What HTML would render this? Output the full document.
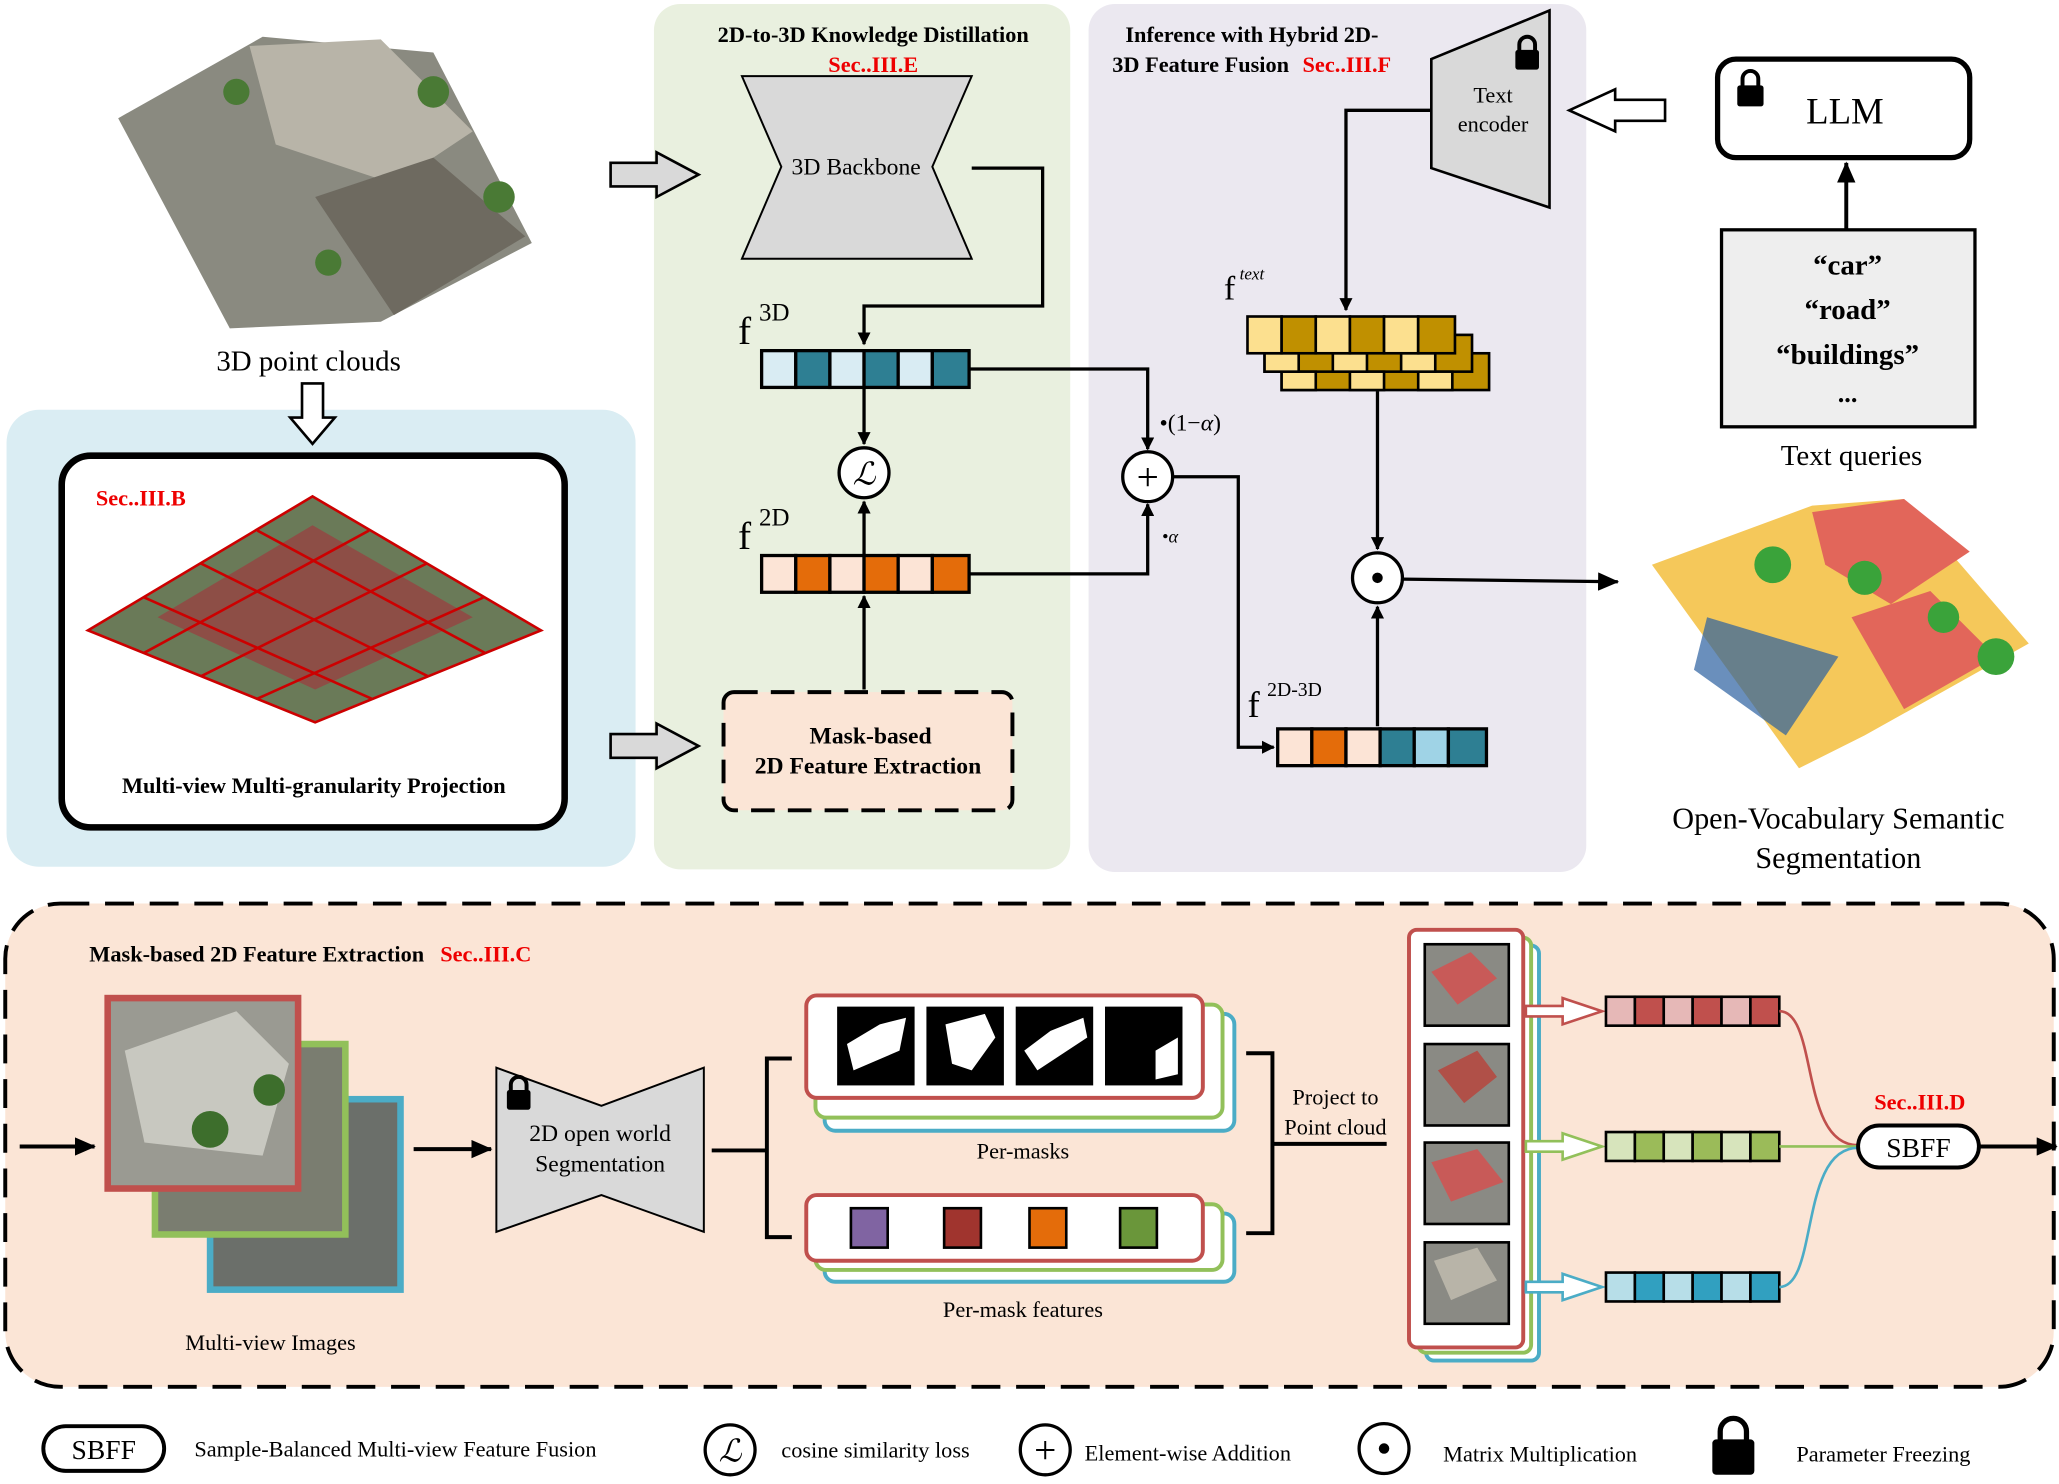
<!DOCTYPE html>
<html><head><meta charset="utf-8"><style>
html,body{margin:0;padding:0;background:#fff}
svg{display:block}
text{font-family:"Liberation Serif",serif}
</style></head><body>
<svg width="2059" height="1484" viewBox="0 0 1568 1130" preserveAspectRatio="none" xmlns="http://www.w3.org/2000/svg">
<defs>
<marker id="ah" markerWidth="10" markerHeight="10" refX="9" refY="5" orient="auto" markerUnits="userSpaceOnUse"><path d="M0,0 L10,5 L0,10 z" fill="#000"/></marker>
<marker id="ahb" markerWidth="16" markerHeight="14" refX="15" refY="7" orient="auto" markerUnits="userSpaceOnUse"><path d="M0,0 L16,7 L0,14 z" fill="#000"/></marker>
</defs>
<rect width="1568" height="1130" fill="#fff"/>
<rect x="5" y="312" width="479" height="348" rx="25" fill="#daedf3"/>
<rect x="498" y="3" width="317" height="659" rx="20" fill="#e9f0df"/>
<rect x="829" y="3" width="379" height="661" rx="20" fill="#ebe8f0"/>
<rect x="4" y="688" width="1560" height="368" rx="42" fill="#fbe5d6" stroke="#000" stroke-width="3" stroke-dasharray="22,12"/>

<polygon points="90,90 200,28 330,40 405,185 290,245 175,250" fill="#8a8a80"/>
<polygon points="190,35 290,30 360,100 300,140 210,110" fill="#b8b4a8"/>
<polygon points="240,150 330,120 400,180 300,240" fill="#6e6a60"/>
<circle cx="180" cy="70" r="10" fill="#4a7a35"/><circle cx="330" cy="70" r="12" fill="#4a7a35"/><circle cx="380" cy="150" r="12" fill="#4a7a35"/><circle cx="250" cy="200" r="10" fill="#4a7a35"/>
<text x="235" y="282" font-size="22" text-anchor="middle">3D point clouds</text>
<polygon points="230,292 246,292 246,318 255,318 238,338 221,318 230,318" fill="#fff" stroke="#000" stroke-width="2"/>

<rect x="47" y="347" width="383" height="283" rx="22" fill="#fff" stroke="#000" stroke-width="5"/>
<text x="73" y="385" font-size="17" font-weight="bold" fill="#e00">Sec..III.B</text>
<polygon points="67,480 238,378 412,480 240,550" fill="#6a7a58"/>
<polygon points="120,470 238,400 360,470 240,525" fill="#9a4040" opacity="0.75"/>
<g stroke="#c00" stroke-width="2" fill="none">
<polygon points="67,480 238,378 412,480 240,550"/>
<line x1="110" y1="455" x2="283" y2="532"/><line x1="153" y1="429" x2="326" y2="515"/><line x1="196" y1="404" x2="369" y2="497"/>
<line x1="110" y1="497" x2="281" y2="404"/><line x1="153" y1="515" x2="325" y2="429"/><line x1="196" y1="532" x2="368" y2="455"/>
</g>
<text x="239" y="604" font-size="17" font-weight="bold" text-anchor="middle">Multi-view Multi-granularity Projection</text>

<polygon points="465,124 500,124 500,116 532,133 500,150 500,142 465,142" fill="#d9d9d9" stroke="#000" stroke-width="2"/>
<polygon points="465,559 500,559 500,551 532,568 500,585 500,577 465,577" fill="#d9d9d9" stroke="#000" stroke-width="2"/>

<text x="665" y="32" font-size="17" font-weight="bold" text-anchor="middle">2D-to-3D Knowledge Distillation</text>
<text x="665" y="55" font-size="17" font-weight="bold" text-anchor="middle" fill="#e00">Sec..III.E</text>
<polygon points="565,58 740,58 710,127 740,197 565,197 595,127" fill="#d9d9d9" stroke="#000" stroke-width="1.5"/>
<text x="652" y="133" font-size="18" text-anchor="middle">3D Backbone</text>
<polyline points="740,128 794,128 794,233 658,233 658,262" fill="none" stroke="#000" stroke-width="2.5" marker-end="url(#ah)"/>
<text x="562" y="262" font-size="30">f</text><text x="578" y="244" font-size="19">3D</text>
<g stroke="#000" stroke-width="2.5">
<rect x="580" y="267" width="26" height="28" fill="#d9ecf3"/><rect x="606" y="267" width="26" height="28" fill="#2e7f93"/><rect x="632" y="267" width="26" height="28" fill="#d9ecf3"/><rect x="658" y="267" width="26" height="28" fill="#2e7f93"/><rect x="684" y="267" width="26" height="28" fill="#d9ecf3"/><rect x="710" y="267" width="28" height="28" fill="#2e7f93"/>
<rect x="580" y="423" width="26" height="28" fill="#fce4d6"/><rect x="606" y="423" width="26" height="28" fill="#e46c0a"/><rect x="632" y="423" width="26" height="28" fill="#fce4d6"/><rect x="658" y="423" width="26" height="28" fill="#e46c0a"/><rect x="684" y="423" width="26" height="28" fill="#fce4d6"/><rect x="710" y="423" width="28" height="28" fill="#e46c0a"/>
</g>
<text x="562" y="418" font-size="30">f</text><text x="578" y="400" font-size="19">2D</text>
<line x1="658" y1="295" x2="658" y2="338" stroke="#000" stroke-width="2.5" marker-end="url(#ah)"/>
<circle cx="658" cy="360" r="19" fill="#fff" stroke="#000" stroke-width="2.5"/>
<text x="658" y="369" font-size="24" font-style="italic" text-anchor="middle">ℒ</text>
<line x1="658" y1="423" x2="658" y2="382" stroke="#000" stroke-width="2.5" marker-end="url(#ah)"/>
<line x1="658" y1="525" x2="658" y2="454" stroke="#000" stroke-width="2.5" marker-end="url(#ah)"/>
<rect x="551" y="527" width="220" height="90" rx="8" fill="#fbe5d6" stroke="#000" stroke-width="3" stroke-dasharray="18,10"/>
<text x="663" y="566" font-size="18" font-weight="bold" text-anchor="middle">Mask-based</text>
<text x="661" y="589" font-size="18" font-weight="bold" text-anchor="middle">2D Feature Extraction</text>

<polyline points="738,281 874,281 874,342" fill="none" stroke="#000" stroke-width="2.5" marker-end="url(#ah)"/>
<polyline points="738,437 874,437 874,384" fill="none" stroke="#000" stroke-width="2.5" marker-end="url(#ah)"/>
<circle cx="874" cy="363" r="19" fill="#fff" stroke="#000" stroke-width="2.5"/>
<text x="874" y="373" font-size="30" text-anchor="middle">+</text>
<text x="883" y="328" font-size="18">•(1−<tspan font-style="italic">α</tspan>)</text>
<text x="885" y="413" font-size="14">•<tspan font-style="italic">α</tspan></text>
<polyline points="893,363 943,363 943,569 970,569" fill="none" stroke="#000" stroke-width="2.5" marker-end="url(#ah)"/>

<text x="857" y="32" font-size="17" font-weight="bold">Inference with Hybrid 2D-</text>
<text x="847" y="55" font-size="17" font-weight="bold">3D Feature Fusion <tspan fill="#e00" dx="6">Sec..III.F</tspan></text>
<polygon points="1090,45 1180,8 1180,158 1090,128" fill="#d9d9d9" stroke="#000" stroke-width="2"/>
<text x="1137" y="78" font-size="17" text-anchor="middle">Text</text>
<text x="1137" y="100" font-size="17" text-anchor="middle">encoder</text>
<g fill="#000"><rect x="1154" y="38" width="18" height="15" rx="2"/><path d="M1157,39 v-5 a6,6 0 0 1 12,0 v5" fill="none" stroke="#000" stroke-width="3"/></g>
<polygon points="1268,76 1230,76 1230,68 1195,84 1230,100 1230,92 1268,92" fill="#fff" stroke="#000" stroke-width="2"/>
<polyline points="1090,84 1025,84 1025,236" fill="none" stroke="#000" stroke-width="2.5" marker-end="url(#ah)"/>
<text x="932" y="228" font-size="26">f</text><text x="944" y="213" font-size="13" font-style="italic">text</text>
<g stroke="#000" stroke-width="2">
<g transform="translate(26,28)"><rect x="950" y="241" width="158" height="28" fill="#c09000"/></g>
<g transform="translate(13,14)"><rect x="950" y="241" width="158" height="28" fill="#c09000"/></g>
</g>
<g stroke="#000" stroke-width="2">
<rect x="976" y="283" width="26" height="14" fill="#fce08f"/><rect x="1028" y="283" width="26" height="14" fill="#fce08f"/><rect x="1080" y="283" width="26" height="14" fill="#fce08f"/>
<rect x="963" y="269" width="26" height="14" fill="#fce08f"/><rect x="1015" y="269" width="26" height="14" fill="#fce08f"/><rect x="1067" y="269" width="26" height="14" fill="#fce08f"/>
<rect x="950" y="241" width="26" height="28" fill="#fce08f"/><rect x="976" y="241" width="26" height="28" fill="#c09000"/><rect x="1002" y="241" width="26" height="28" fill="#fce08f"/><rect x="1028" y="241" width="26" height="28" fill="#c09000"/><rect x="1054" y="241" width="26" height="28" fill="#fce08f"/><rect x="1080" y="241" width="28" height="28" fill="#c09000"/>
</g>
<line x1="1049" y1="298" x2="1049" y2="418" stroke="#000" stroke-width="2.5" marker-end="url(#ah)"/>
<circle cx="1049" cy="440" r="19" fill="#fff" stroke="#000" stroke-width="2.5"/>
<circle cx="1049" cy="440" r="4" fill="#000"/>
<line x1="1049" y1="553" x2="1049" y2="462" stroke="#000" stroke-width="2.5" marker-end="url(#ah)"/>
<line x1="1068" y1="441" x2="1232" y2="443" stroke="#000" stroke-width="2.5" marker-end="url(#ahb)"/>
<text x="950" y="546" font-size="28">f</text><text x="965" y="530" font-size="15">2D-3D</text>
<g stroke="#000" stroke-width="2.5">
<rect x="973" y="555" width="26" height="28" fill="#fce4d6"/><rect x="999" y="555" width="26" height="28" fill="#e46c0a"/><rect x="1025" y="555" width="26" height="28" fill="#fce4d6"/><rect x="1051" y="555" width="26" height="28" fill="#2e7f93"/><rect x="1077" y="555" width="26" height="28" fill="#9fd3e6"/><rect x="1103" y="555" width="29" height="28" fill="#2e7f93"/>
</g>

<rect x="1308" y="45" width="192" height="75" rx="14" fill="#fff" stroke="#000" stroke-width="4"/>
<text x="1405" y="94" font-size="28" text-anchor="middle">LLM</text>
<g fill="#000"><rect x="1323" y="65" width="20" height="16" rx="2"/><path d="M1327,66 v-6 a6,6 0 0 1 12,0 v6" fill="none" stroke="#000" stroke-width="3"/></g>
<line x1="1406" y1="174" x2="1406" y2="124" stroke="#000" stroke-width="3" marker-end="url(#ahb)"/>
<rect x="1311" y="175" width="193" height="150" fill="#eee" stroke="#000" stroke-width="2.5"/>
<text x="1407" y="209" font-size="22" font-weight="bold" text-anchor="middle">“car”</text>
<text x="1407" y="243" font-size="22" font-weight="bold" text-anchor="middle">“road”</text>
<text x="1407" y="277" font-size="22" font-weight="bold" text-anchor="middle">“buildings”</text>
<text x="1407" y="306" font-size="20" font-weight="bold" text-anchor="middle">...</text>
<text x="1410" y="354" font-size="22" text-anchor="middle">Text queries</text>

<polygon points="1258,430 1380,385 1450,380 1545,490 1420,560 1370,585" fill="#f5c85a"/>
<polygon points="1380,390 1450,380 1500,420 1440,460 1390,430" fill="#e2665a"/>
<polygon points="1410,470 1470,450 1520,500 1450,540" fill="#e2665a"/>
<polygon points="1300,470 1400,500 1360,560 1290,510" fill="#2b5fa0" opacity="0.7"/>
<circle cx="1350" cy="430" r="14" fill="#3aa33a"/><circle cx="1420" cy="440" r="13" fill="#3aa33a"/><circle cx="1480" cy="470" r="12" fill="#3aa33a"/><circle cx="1520" cy="500" r="14" fill="#3aa33a"/>
<text x="1400" y="631" font-size="23" text-anchor="middle">Open-Vocabulary Semantic</text>
<text x="1400" y="661" font-size="23" text-anchor="middle">Segmentation</text>

<text x="68" y="732" font-size="17" font-weight="bold">Mask-based 2D Feature Extraction <tspan fill="#e00" dx="8">Sec..III.C</tspan></text>
<line x1="15" y1="873" x2="72" y2="873" stroke="#000" stroke-width="3" marker-end="url(#ahb)"/>
<rect x="160" y="837" width="145" height="145" fill="#6b6f6a" stroke="#4bacc6" stroke-width="5"/>
<rect x="118" y="795" width="145" height="145" fill="#7a7d70" stroke="#92c05a" stroke-width="5"/>
<rect x="82" y="760" width="145" height="145" fill="#9a9a92" stroke="#c0504d" stroke-width="5"/>
<polygon points="95,800 180,770 220,810 200,880 110,870" fill="#c8c8c0"/>
<circle cx="160" cy="860" r="14" fill="#3d6e2c"/><circle cx="205" cy="830" r="12" fill="#3d6e2c"/>
<text x="206" y="1028" font-size="17" text-anchor="middle">Multi-view Images</text>
<line x1="315" y1="875" x2="374" y2="875" stroke="#000" stroke-width="3" marker-end="url(#ahb)"/>
<polygon points="378,813 458,842 536,813 536,938 458,910 378,938" fill="#d9d9d9" stroke="#000" stroke-width="1.5"/>
<g fill="#000"><rect x="386" y="830" width="18" height="15" rx="2"/><path d="M389,831 v-5 a6,6 0 0 1 12,0 v5" fill="none" stroke="#000" stroke-width="3"/></g>
<text x="457" y="869" font-size="18" text-anchor="middle">2D open world</text>
<text x="457" y="892" font-size="18" text-anchor="middle">Segmentation</text>
<polyline points="542,876 584,876" fill="none" stroke="#000" stroke-width="3"/>
<polyline points="603,806 584,806 584,942 603,942" fill="none" stroke="#000" stroke-width="3"/>
<rect x="628" y="772" width="312" height="89" rx="8" fill="#fff" stroke="#4bacc6" stroke-width="3"/>
<rect x="621" y="765" width="310" height="86" rx="8" fill="#fff" stroke="#92c05a" stroke-width="3"/>
<rect x="614" y="758" width="302" height="78" rx="8" fill="#fff" stroke="#c0504d" stroke-width="3"/>
<g stroke="#000" stroke-width="3" fill="#000">
<rect x="639" y="768" width="56" height="57"/><rect x="707" y="768" width="56" height="57"/><rect x="775" y="768" width="56" height="57"/><rect x="843" y="768" width="56" height="57"/>
</g>
<path d="M645,795 L670,780 L690,775 L685,800 L650,815 Z" fill="#fff"/>
<path d="M720,780 L750,772 L758,790 L740,815 L725,810 Z" fill="#fff"/>
<path d="M780,800 L800,785 L825,775 L828,790 L790,815 Z" fill="#fff"/>
<path d="M880,800 L897,790 L897,818 L880,822 Z" fill="#fff"/>
<text x="779" y="882" font-size="17" text-anchor="middle">Per-masks</text>
<rect x="628" y="924" width="312" height="52" rx="8" fill="#fff" stroke="#4bacc6" stroke-width="3"/>
<rect x="621" y="917" width="310" height="50" rx="8" fill="#fff" stroke="#92c05a" stroke-width="3"/>
<rect x="614" y="910" width="302" height="50" rx="8" fill="#fff" stroke="#c0504d" stroke-width="3"/>
<g stroke="#000" stroke-width="2">
<rect x="648" y="920" width="28" height="30" fill="#8064a2"/><rect x="719" y="920" width="28" height="30" fill="#a0342e"/><rect x="784" y="920" width="28" height="30" fill="#e46c0a"/><rect x="853" y="920" width="28" height="30" fill="#6a963a"/>
</g>
<text x="779" y="1003" font-size="17" text-anchor="middle">Per-mask features</text>
<polyline points="949,802 969,802 969,939 949,939" fill="none" stroke="#000" stroke-width="3"/>
<line x1="969" y1="871" x2="1056" y2="871" stroke="#000" stroke-width="3"/>
<text x="1017" y="841" font-size="17" text-anchor="middle">Project to</text>
<text x="1017" y="864" font-size="17" text-anchor="middle">Point cloud</text>
<rect x="1086" y="720" width="86" height="316" rx="6" fill="#fff" stroke="#4bacc6" stroke-width="3"/>
<rect x="1080" y="714" width="86" height="316" rx="6" fill="#fff" stroke="#92c05a" stroke-width="3"/>
<rect x="1073" y="708" width="87" height="318" rx="6" fill="#fff" stroke="#c0504d" stroke-width="3"/>
<g stroke="#000" stroke-width="2">
<rect x="1085" y="719" width="64" height="62" fill="#8a8a84"/><rect x="1085" y="795" width="64" height="62" fill="#8a8a84"/><rect x="1085" y="870" width="64" height="62" fill="#8a8a84"/><rect x="1085" y="946" width="64" height="62" fill="#8a8a84"/>
</g>
<polygon points="1090,740 1120,725 1140,745 1110,765" fill="#c85a58"/>
<polygon points="1095,815 1125,800 1140,820 1115,840" fill="#b05048"/>
<polygon points="1090,885 1125,875 1145,900 1105,915" fill="#c85a58"/>
<polygon points="1092,960 1125,950 1140,975 1105,990" fill="#b8b4a8"/>
<polygon points="1162,766 1190,766 1190,760 1220,770 1190,780 1190,774 1162,774" fill="#fff" stroke="#c0504d" stroke-width="2"/>
<polygon points="1162,869 1190,869 1190,863 1220,873 1190,883 1190,877 1162,877" fill="#fff" stroke="#92c05a" stroke-width="2"/>
<polygon points="1162,976 1190,976 1190,970 1220,980 1190,990 1190,984 1162,984" fill="#fff" stroke="#4bacc6" stroke-width="2"/>
<g stroke="#000" stroke-width="2">
<rect x="1223" y="759" width="22" height="22" fill="#e6b8b7"/><rect x="1245" y="759" width="22" height="22" fill="#c0504d"/><rect x="1267" y="759" width="22" height="22" fill="#e6b8b7"/><rect x="1289" y="759" width="22" height="22" fill="#c0504d"/><rect x="1311" y="759" width="22" height="22" fill="#e6b8b7"/><rect x="1333" y="759" width="22" height="22" fill="#c0504d"/>
<rect x="1223" y="862" width="22" height="22" fill="#d7e4bc"/><rect x="1245" y="862" width="22" height="22" fill="#9bbb59"/><rect x="1267" y="862" width="22" height="22" fill="#d7e4bc"/><rect x="1289" y="862" width="22" height="22" fill="#9bbb59"/><rect x="1311" y="862" width="22" height="22" fill="#d7e4bc"/><rect x="1333" y="862" width="22" height="22" fill="#9bbb59"/>
<rect x="1223" y="969" width="22" height="22" fill="#b7dee8"/><rect x="1245" y="969" width="22" height="22" fill="#31a0c0"/><rect x="1267" y="969" width="22" height="22" fill="#b7dee8"/><rect x="1289" y="969" width="22" height="22" fill="#31a0c0"/><rect x="1311" y="969" width="22" height="22" fill="#b7dee8"/><rect x="1333" y="969" width="22" height="22" fill="#31a0c0"/>
</g>
<path d="M1355,770 C1385,770 1370,872 1415,872" fill="none" stroke="#c0504d" stroke-width="2"/>
<path d="M1355,873 L1415,873" fill="none" stroke="#92c05a" stroke-width="2"/>
<path d="M1355,980 C1385,980 1370,874 1415,874" fill="none" stroke="#4bacc6" stroke-width="2"/>
<text x="1462" y="845" font-size="17" font-weight="bold" fill="#e00" text-anchor="middle">Sec..III.D</text>
<rect x="1415" y="857" width="92" height="32" rx="16" fill="#fff" stroke="#000" stroke-width="3"/>
<text x="1461" y="881" font-size="21" text-anchor="middle">SBFF</text>
<line x1="1507" y1="873" x2="1566" y2="873" stroke="#000" stroke-width="3" marker-end="url(#ahb)"/>

<rect x="33" y="1086" width="92" height="34" rx="17" fill="#fff" stroke="#000" stroke-width="3"/>
<text x="79" y="1111" font-size="21" text-anchor="middle">SBFF</text>
<text x="148" y="1109" font-size="17">Sample-Balanced Multi-view Feature Fusion</text>
<circle cx="556" cy="1104" r="19" fill="#fff" stroke="#000" stroke-width="2.5"/>
<text x="556" y="1113" font-size="24" font-style="italic" text-anchor="middle">ℒ</text>
<text x="595" y="1110" font-size="17">cosine similarity loss</text>
<circle cx="796" cy="1104" r="19" fill="#fff" stroke="#000" stroke-width="2.5"/>
<text x="796" y="1114" font-size="30" text-anchor="middle">+</text>
<text x="826" y="1112" font-size="17">Element-wise Addition</text>
<circle cx="1054" cy="1103" r="19" fill="#fff" stroke="#000" stroke-width="2.5"/>
<circle cx="1054" cy="1103" r="4" fill="#000"/>
<text x="1099" y="1113" font-size="17">Matrix Multiplication</text>
<rect x="1304" y="1096" width="32" height="27" rx="3" fill="#000"/>
<path d="M1310,1097 v-7 a10,10 0 0 1 20,0 v7" fill="none" stroke="#000" stroke-width="4"/>
<text x="1368" y="1113" font-size="17">Parameter Freezing</text>
</svg>
</body></html>
